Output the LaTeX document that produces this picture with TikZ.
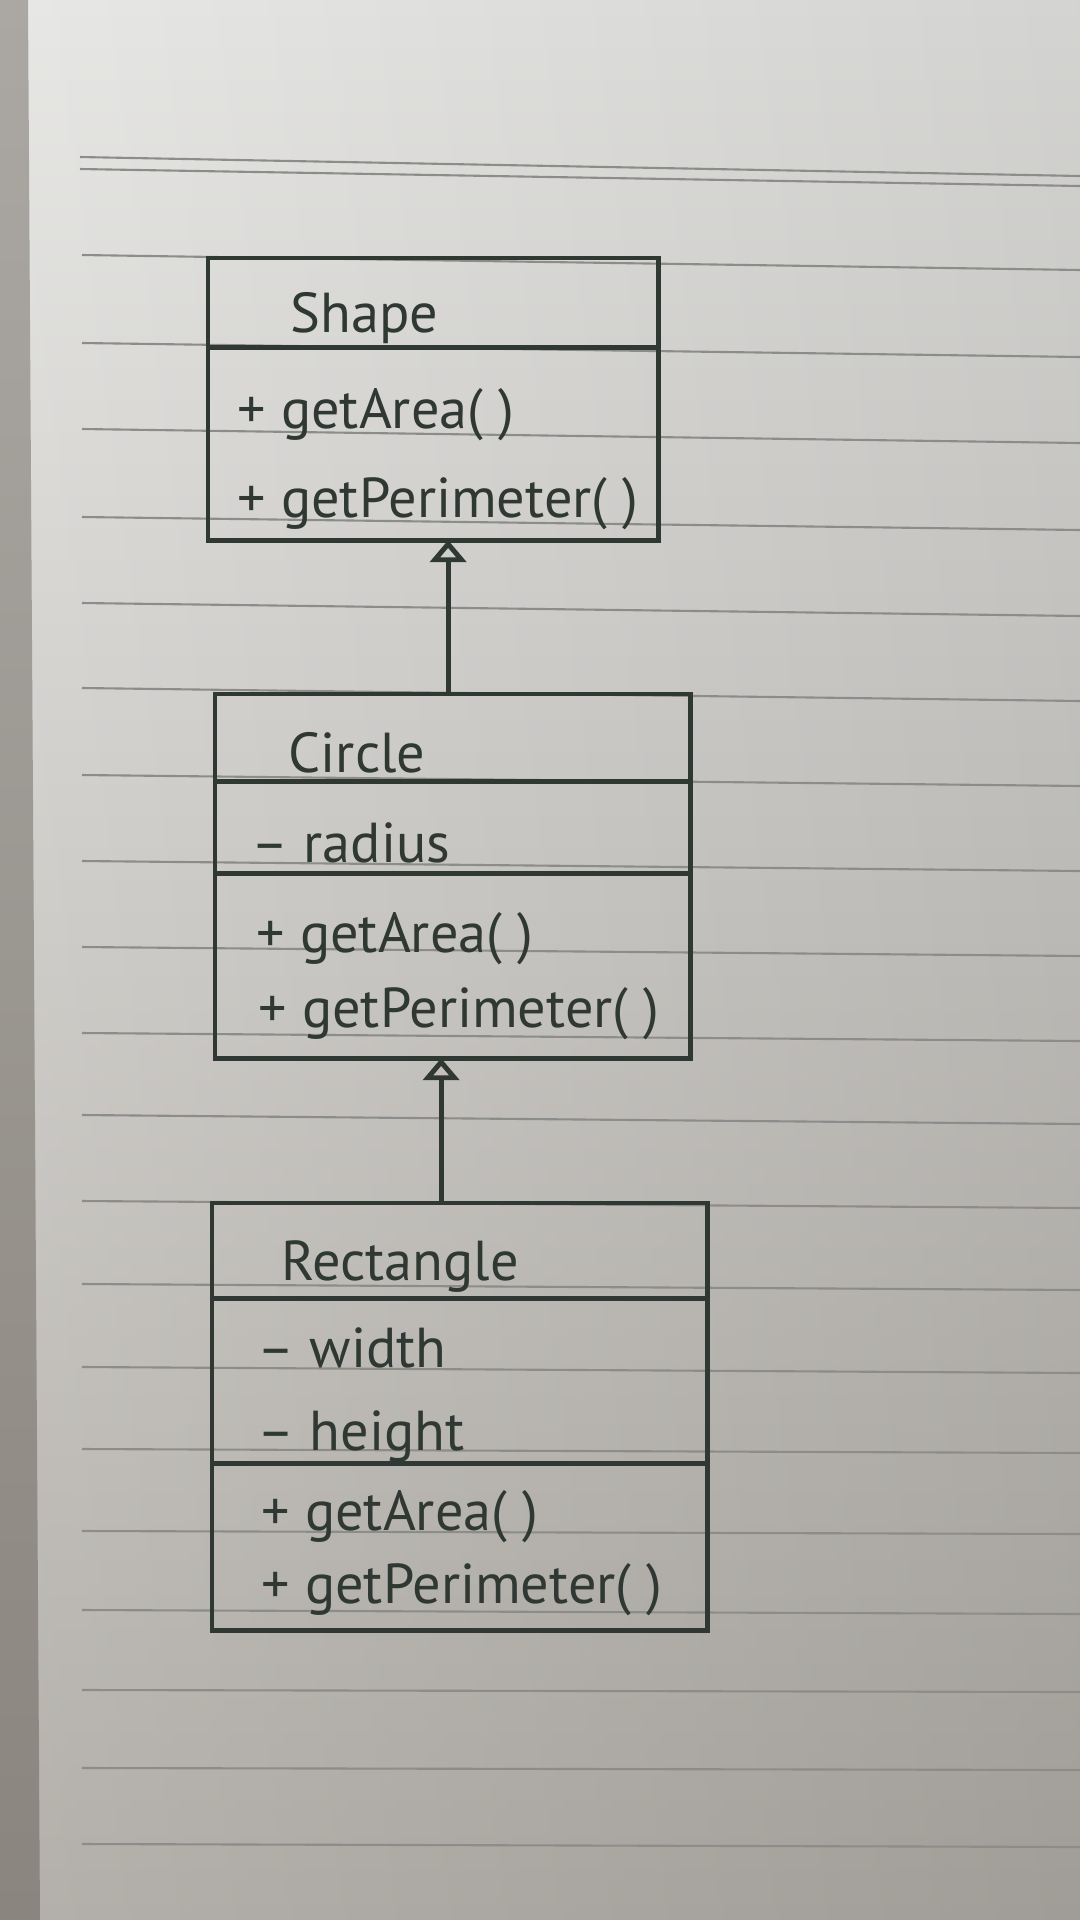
\documentclass[tikz,border=0pt]{standalone}
\usepackage{fontspec}
\setmainfont{PT Sans}
\usetikzlibrary{arrows.meta,positioning}

\definecolor{ink}{HTML}{2F3833}
\definecolor{ruleline}{HTML}{8C8C8A}
\definecolor{papertop}{HTML}{E6E6E4}
\definecolor{paperbot}{HTML}{AEAAA4}
\definecolor{bindtop}{HTML}{ABA8A3}
\definecolor{bindbot}{HTML}{8A857E}

\tikzset{
  classbox/.style={draw=ink, line width=1.4pt, rectangle, inner sep=0pt, outer sep=0pt, anchor=north west},
  member/.style={anchor=base west, inner sep=0pt, text=ink, font=\fontsize{16}{19}\selectfont},
  inherit/.style={draw=ink, line width=1.4pt, -{Triangle[open, length=0.22cm, width=0.36cm]}},
  ruling/.style={draw=ruleline, line width=0.6pt}
}

\begin{document}
\begin{tikzpicture}[x=0.01cm, y=-0.01cm]  % one unit = one pixel of the page
        \useasboundingbox (0,0) rectangle (1080,1920);

        % Paper and binding
        \shade[top color=papertop, bottom color=paperbot] (0,0) rectangle (1080,1920);
        \shade[left color=white, right color=black, opacity=0.08] (0,0) rectangle (1080,1920);
        \shade[top color=bindtop, bottom color=bindbot] (0,0) -- (28,0) -- (40,1920) -- (0,1920) -- cycle;

        % Double line at the head of the page
        \draw[ruling] (80,157) -- (1080,176);
        \draw[ruling] (80,169) -- (1080,186);

        % Ruled lines (left end / right end)
        \foreach \yl/\yr in {255/270, 343/357, 429/443, 517/530, 603/616, 688/701,
                             775/786, 861/871, 947/956, 1033/1041, 1115/1124, 1201/1208,
                             1284/1290, 1367/1373, 1449/1453, 1531/1534, 1610/1614,
                             1690/1692, 1768/1770, 1844/1847} {
          \draw[ruling] (82,\yl) -- (1080,\yr);
        }

        % Shape
        \node[classbox, minimum width=4.5cm, minimum height=0.89cm] (shape-head) at (208,258) {};
        \node[classbox, minimum width=4.5cm, minimum height=1.93cm, below=0pt of shape-head] (shape-ops) {};
        \node[member] (shape-name) at (290,332) {Shape};
        \node[member] (shape-area) at (237,428) {+ getArea( )};
        \node[member] (shape-perim) at (237,517) {+ getPerimeter( )};

        % Circle
        \node[classbox, minimum width=4.75cm, minimum height=0.87cm] (circle-head) at (215,694) {};
        \node[classbox, minimum width=4.75cm, minimum height=0.92cm, below=0pt of circle-head] (circle-attrs) {};
        \node[classbox, minimum width=4.75cm, minimum height=1.85cm, below=0pt of circle-attrs] (circle-ops) {};
        \node[member] (circle-name) at (288,772) {Circle};
        \node[member] (circle-radius) at (251,862) {-- radius};
        \node[member] (circle-area) at (256,952) {+ getArea( )};
        \node[member] (circle-perim) at (258,1027) {+ getPerimeter( )};

        % Rectangle
        \node[classbox, minimum width=4.95cm, minimum height=0.95cm] (rect-head) at (212,1203) {};
        \node[classbox, minimum width=4.95cm, minimum height=1.65cm, below=0pt of rect-head] (rect-attrs) {};
        \node[classbox, minimum width=4.95cm, minimum height=1.67cm, below=0pt of rect-attrs] (rect-ops) {};
        \node[member] (rect-name) at (281,1280) {Rectangle};
        \node[member] (rect-width) at (257,1367) {-- width};
        \node[member] (rect-height) at (257,1450) {-- height};
        \node[member] (rect-area) at (261,1530) {+ getArea( )};
        \node[member] (rect-perim) at (261,1603) {+ getPerimeter( )};

        % Generalisation arrows
        \draw[inherit] ([xshift=-0.045cm]circle-head.north) -- ([xshift=-0.045cm]circle-head.north |- shape-ops.south);
        \draw[inherit] ([xshift=-0.185cm]rect-head.north) -- ([xshift=-0.185cm]rect-head.north |- circle-ops.south);
      \end{tikzpicture}
\end{document}
